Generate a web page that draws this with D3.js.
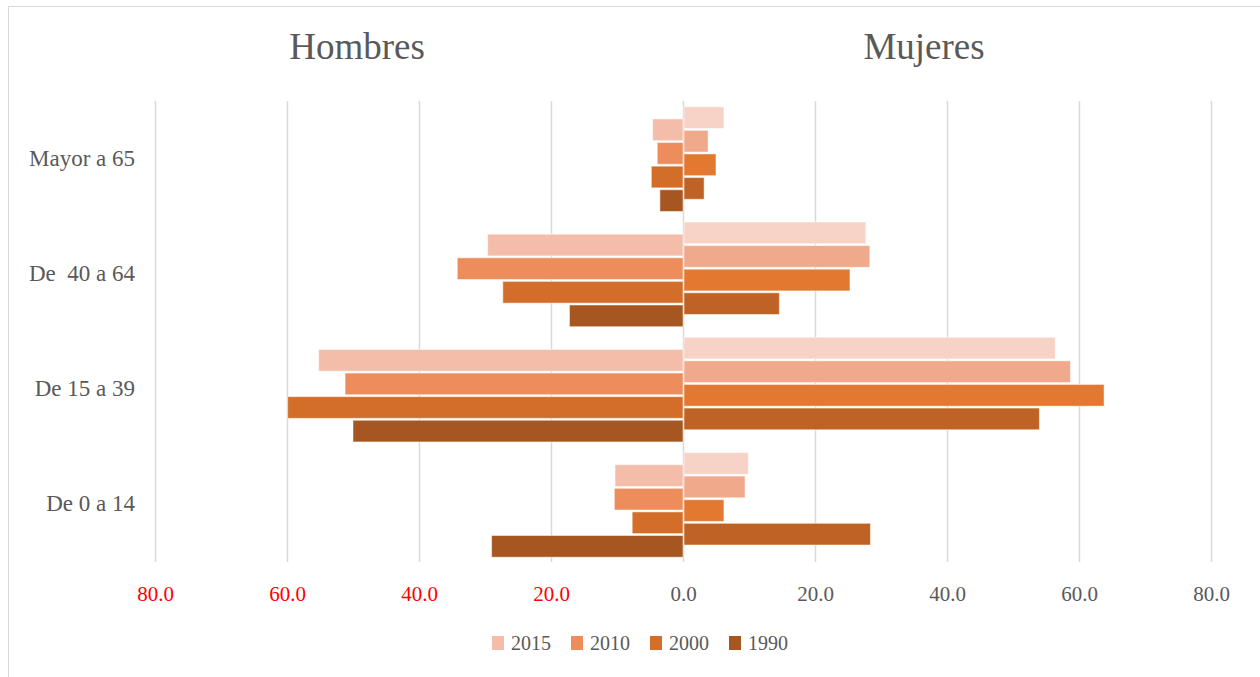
<!DOCTYPE html>
<html>
<head>
<meta charset="utf-8">
<script src="https://cdn.jsdelivr.net/npm/d3@7"></script>
<style>
  body { margin: 0; background: #fff; }
  text { font-family: "Liberation Serif", "DejaVu Serif", serif; fill: #595959; }
</style>
</head>
<body>
<div id="chart"></div>
<script>
// chart data, top category first
const categories = ["Mayor a 65", "De  40 a 64", "De 15 a 39", "De 0 a 14"];
const years = ["2015", "2010", "2000", "1990"];

const hombres2015 = [4.6, 29.6, 55.2, 10.3];
const hombres2010 = [3.9, 34.2, 51.2, 10.4];
const hombres2000 = [4.8, 27.3, 59.9, 7.7];
const hombres1990 = [3.5, 17.2, 50.0, 29.0];

const mujeres2015 = [6.2, 27.7, 56.4, 9.9];
const mujeres2010 = [3.8, 28.3, 58.7, 9.4];
const mujeres2000 = [5.0, 25.3, 63.8, 6.2];
const mujeres1990 = [3.2, 14.6, 54.0, 28.4];

const tickValues = [-80, -60, -40, -20, 0, 20, 40, 60, 80];

const hombresColors = ["#f3bda9", "#ec8d5b", "#d26e2a", "#a65620"];
const mujeresColors = ["#f7d3c7", "#f0a98b", "#e37830", "#bf6225"];

const hombres = [hombres2015, hombres2010, hombres2000, hombres1990];
const mujeres = [mujeres2015, mujeres2010, mujeres2000, mujeres1990];

const w = 1260, h = 677;
const plotTop = 101, plotBottom = 562;

const svg = d3.select("#chart").append("svg")
    .attr("width", w)
    .attr("height", h);

// chart area border
svg.append("rect")
    .attr("x", 8.5).attr("y", 6.5)
    .attr("width", w + 10).attr("height", h + 10)
    .attr("fill", "none")
    .attr("stroke", "#d9d9d9");

const x = d3.scaleLinear().domain([-80, 80]).range([155, 1211]);
const y = d3.scaleBand().domain(categories).range([plotTop, plotBottom]);
const yInner = d3.scaleBand().domain(years).range([0, 94.4])
    .paddingInner(0.08).paddingOuter(0.04);

// gridlines
const grid = svg.append("g")
    .attr("transform", "translate(0," + plotBottom + ")")
    .call(d3.axisBottom(x).tickValues(tickValues).tickSize(-(plotBottom - plotTop)).tickFormat(""));
grid.select(".domain").remove();
grid.selectAll("line").attr("stroke", "#d9d9d9").attr("stroke-width", 1.5);

// tick labels
const axis = svg.append("g")
    .attr("transform", "translate(0," + plotBottom + ")")
    .call(d3.axisBottom(x).tickValues(tickValues).tickSize(0).tickPadding(24)
        .tickFormat(d => Math.abs(d).toFixed(1)));
axis.select(".domain").remove();
axis.selectAll("text")
    .style("font-family", '"Liberation Serif", serif')
    .style("font-size", "21px")
    .style("fill", d => d < 0 ? "#ff0000" : "#595959");

// bars
const barH = yInner.bandwidth();
years.forEach((yr, k) => {
    svg.append("g").selectAll("rect")
        .data(categories.map((c, i) => ({ c: c, v: hombres[k][i] })))
        .enter().append("rect")
        .attr("x", d => x(-d.v))
        .attr("y", d => y(d.c) + 17 + yInner(yr))
        .attr("width", d => x(0) - x(-d.v))
        .attr("height", barH)
        .attr("fill", hombresColors[k])
        .attr("stroke", "#fff").attr("stroke-opacity", 0.5);

    svg.append("g").selectAll("rect")
        .data(categories.map((c, i) => ({ c: c, v: mujeres[k][i] })))
        .enter().append("rect")
        .attr("x", x(0) + 1)
        .attr("y", d => y(d.c) + 4.8 + yInner(yr))
        .attr("width", d => x(d.v) - x(0) - 1)
        .attr("height", barH)
        .attr("fill", mujeresColors[k])
        .attr("stroke", "#fff").attr("stroke-opacity", 0.5);
});

// category labels
svg.append("g").selectAll("text")
    .data(categories)
    .enter().append("text")
    .attr("x", 135)
    .attr("y", d => y(d) + y.bandwidth() / 2 - 1)
    .attr("dy", "0.35em")
    .attr("text-anchor", "end")
    .style("white-space", "pre")
    .style("font-size", "23px")
    .text(d => d);

// titles
svg.append("text").attr("x", 357).attr("y", 59).attr("text-anchor", "middle")
    .style("font-size", "37px").text("Hombres");
svg.append("text").attr("x", 924).attr("y", 59).attr("text-anchor", "middle")
    .style("font-size", "37px").text("Mujeres");

// legend
const legend = svg.append("g");
let lx = 0;
years.forEach((yr, k) => {
    const item = legend.append("g").attr("transform", "translate(" + lx + ",0)");
    item.append("rect").attr("x", 0).attr("y", -7).attr("width", 12).attr("height", 14)
        .attr("fill", hombresColors[k]);
    const t = item.append("text").attr("x", 19).attr("y", 0).attr("dy", "0.35em")
        .style("font-size", "20px").text(yr);
    lx += 19 + t.node().getComputedTextLength() + 20;
});
legend.attr("transform", "translate(" + (640 - (lx - 20) / 2) + ",643)");
</script>
</body>
</html>
